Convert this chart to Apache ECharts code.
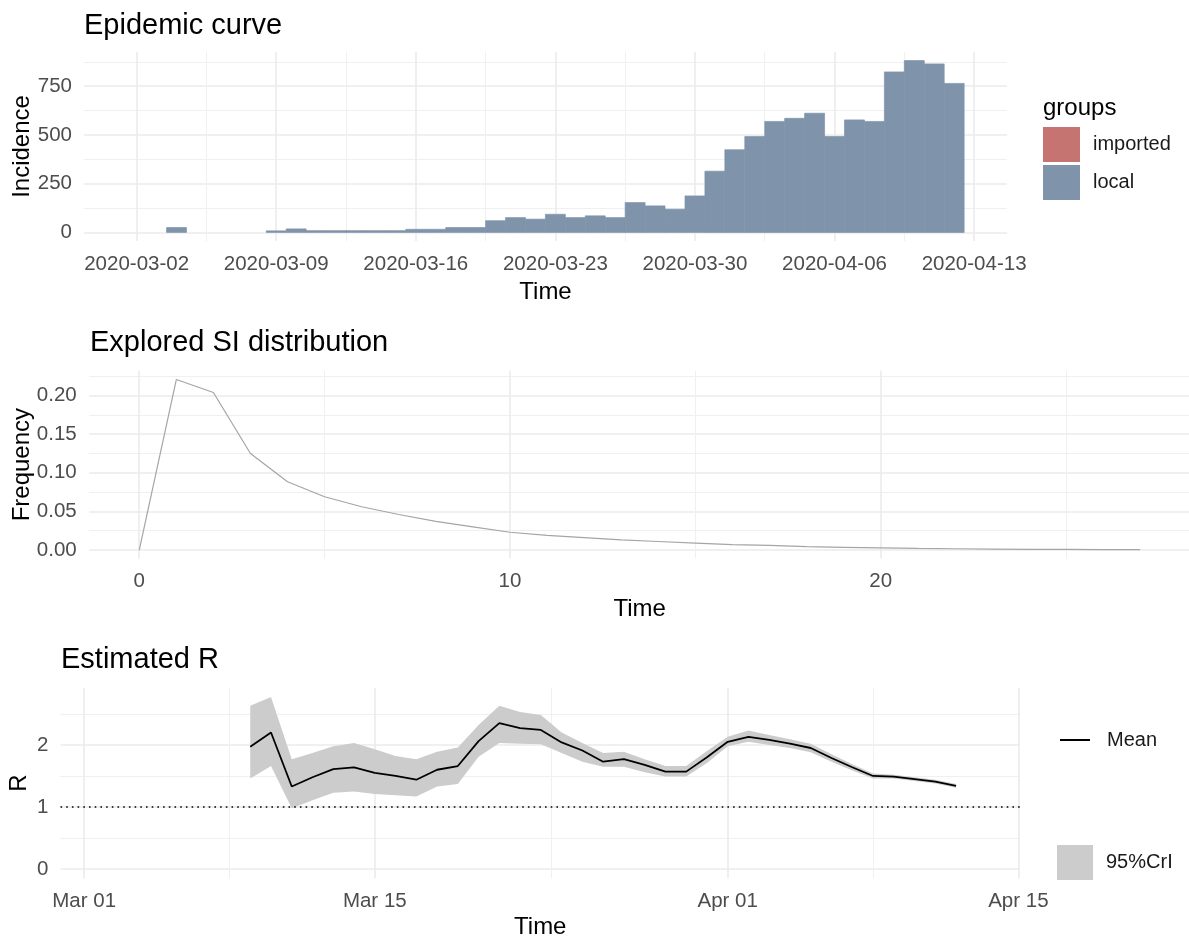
<!DOCTYPE html>
<html>
<head>
<meta charset="utf-8">
<script src="https://cdn.jsdelivr.net/npm/echarts@6/dist/echarts.min.js"></script>
<style>
  html, body { margin: 0; background: #fff; }
  #chart { width: 1189px; height: 939px; }
</style>
</head>
<body>
<div id="chart"></div>
<script>
const DAY = 86400000
const day = (s) => Date.parse(s + 'T00:00:00Z')

// --- epidemic curve (daily incidence, local cases; no imported cases visible)
const incidenceDates = [
  '2020-03-04', '2020-03-09', '2020-03-10', '2020-03-11', '2020-03-12', '2020-03-13',
  '2020-03-14', '2020-03-15', '2020-03-16', '2020-03-17', '2020-03-18', '2020-03-19',
  '2020-03-20', '2020-03-21', '2020-03-22', '2020-03-23', '2020-03-24', '2020-03-25',
  '2020-03-26', '2020-03-27', '2020-03-28', '2020-03-29', '2020-03-30', '2020-03-31',
  '2020-04-01', '2020-04-02', '2020-04-03', '2020-04-04', '2020-04-05', '2020-04-06',
  '2020-04-07', '2020-04-08', '2020-04-09', '2020-04-10', '2020-04-11', '2020-04-12',
]
const incidenceLocal = [
  25, 8, 18, 9, 9, 9,
  9, 9, 16, 16, 25, 25,
  60, 76, 68, 93, 76, 85,
  76, 153, 136, 119, 187, 314,
  424, 492, 569, 585, 611, 492,
  577, 569, 823, 881, 864, 764,
]
const incidenceImported = []
const incidenceTicksX = ['2020-03-02', '2020-03-09', '2020-03-16', '2020-03-23', '2020-03-30', '2020-04-06', '2020-04-13']
const incidenceMinorX = ['2020-03-05T12:00', '2020-03-12T12:00', '2020-03-19T12:00', '2020-03-26T12:00', '2020-04-02T12:00', '2020-04-09T12:00']
const incidenceTicksY = [0, 250, 500, 750]
const incidenceMinorY = [125, 375, 625, 875]

// --- serial interval distribution
const siTime = [0, 1, 2, 3, 4, 5, 6, 7, 8, 9, 10, 11, 12, 13, 14, 15, 16, 17, 18, 19, 20, 21, 22, 23, 24, 25, 26, 27]
const siFreq = [
  0, 0.2207, 0.2039, 0.125, 0.0884, 0.069, 0.056, 0.046, 0.037, 0.030,
  0.023, 0.019, 0.016, 0.013, 0.011, 0.009, 0.007, 0.006, 0.0045, 0.0035,
  0.0027, 0.002, 0.0016, 0.0012, 0.0009, 0.0007, 0.0005, 0.0004,
]
const siTicksX = [0, 10, 20]
const siMinorX = [5, 15, 25]
const siTicksY = [0, 0.05, 0.1, 0.15, 0.2]
const siMinorY = [0.025, 0.075, 0.125, 0.175, 0.225]

// --- estimated R
const rDates = [
  '2020-03-09', '2020-03-10', '2020-03-11', '2020-03-12', '2020-03-13', '2020-03-14', '2020-03-15',
  '2020-03-16', '2020-03-17', '2020-03-18', '2020-03-19', '2020-03-20', '2020-03-21', '2020-03-22',
  '2020-03-23', '2020-03-24', '2020-03-25', '2020-03-26', '2020-03-27', '2020-03-28', '2020-03-29',
  '2020-03-30', '2020-03-31', '2020-04-01', '2020-04-02', '2020-04-03', '2020-04-04', '2020-04-05',
  '2020-04-06', '2020-04-07', '2020-04-08', '2020-04-09', '2020-04-10', '2020-04-11', '2020-04-12',
]
const rMean = [
  1.97, 2.20, 1.33, 1.48, 1.61, 1.64, 1.55,
  1.50, 1.44, 1.60, 1.66, 2.06, 2.35, 2.27,
  2.24, 2.04, 1.91, 1.73, 1.77, 1.68, 1.57,
  1.57, 1.80, 2.05, 2.13, 2.08, 2.02, 1.95,
  1.79, 1.64, 1.50, 1.49, 1.45, 1.41, 1.34,
]
const rUpper = [
  2.63, 2.77, 1.77, 1.87, 1.98, 2.03, 1.93,
  1.82, 1.77, 1.89, 1.96, 2.32, 2.63, 2.53,
  2.48, 2.20, 2.03, 1.87, 1.89, 1.77, 1.66,
  1.66, 1.90, 2.13, 2.23, 2.16, 2.09, 2.02,
  1.85, 1.69, 1.54, 1.52, 1.48, 1.44, 1.37,
]
const rLower = [
  1.46, 1.66, 0.98, 1.11, 1.23, 1.25, 1.21,
  1.19, 1.17, 1.33, 1.37, 1.81, 2.03, 2.02,
  2.01, 1.87, 1.73, 1.65, 1.65, 1.56, 1.49,
  1.49, 1.71, 1.98, 2.05, 2.00, 1.95, 1.88,
  1.73, 1.59, 1.46, 1.46, 1.42, 1.38, 1.31,
]
const rTicksX = ['2020-03-01', '2020-03-15', '2020-04-01', '2020-04-15']
const rMinorX = ['2020-03-08', '2020-03-23T12:00', '2020-04-08']
const rTicksY = [0, 1, 2]
const rMinorY = [0.5, 1.5, 2.5]
const rThreshold = 1

// --- styling
const FONT = '"Liberation Sans", Arial, sans-serif'
const TICK = '#4d4d4d'
const GRID_MAJOR = '#ebebeb'
const GRID_MINOR = '#f0f0f0'
const LOCAL_COLOR = '#7f94ab'
const IMPORTED_COLOR = '#c57472'
const BAND_COLOR = '#cccccc'

// dates live on plain value axes (milliseconds, UTC)
const ts = (s) => Date.parse(s.length > 10 ? s + ':00Z' : s + 'T00:00:00Z')
const MONTHS = ['Jan', 'Feb', 'Mar', 'Apr', 'May', 'Jun', 'Jul', 'Aug', 'Sep', 'Oct', 'Nov', 'Dec']
const isoDate = (v) => new Date(v).toISOString().slice(0, 10)
const shortDate = (v) => {
  const d = new Date(v)
  return MONTHS[d.getUTCMonth()] + ' ' + String(d.getUTCDate()).padStart(2, '0')
}

const mainAxis = (gridIndex, min, max, ticks, fmt, margin, name, nameGap, pinName) => ({
  type: 'value', gridIndex, min, max, scale: true,
  axisLine: { show: false },
  axisTick: { show: false, customValues: ticks },
  axisLabel: { customValues: ticks, formatter: fmt, fontSize: 20.5, color: TICK, margin, fontFamily: FONT },
  splitLine: { show: true, lineStyle: { color: GRID_MAJOR, width: 1.6 } },
  name, nameLocation: 'middle', nameGap,
  nameMoveOverlap: !pinName,
  nameTextStyle: { fontSize: 24, color: '#000', fontFamily: FONT },
})
const minorAxis = (gridIndex, min, max, ticks) => ({
  type: 'value', gridIndex, min, max, scale: true,
  axisLine: { show: false },
  axisTick: { show: false, customValues: ticks },
  axisLabel: { show: false, customValues: ticks },
  splitLine: { show: true, lineStyle: { color: GRID_MINOR, width: 1.1 } },
})

const p1min = day('2020-03-02') - 2.64 * DAY
const p1max = day('2020-03-02') + 43.65 * DAY
const p3min = day('2020-03-01') - 1.14 * DAY
const p3max = day('2020-03-01') + 45.08 * DAY

const barItem = (color) => (params, api) => {
  const t = api.value(0)
  const top = api.coord([t - DAY / 2, api.value(1)])
  const bottom = api.coord([t + DAY / 2, 0])
  return {
    type: 'rect',
    shape: { x: top[0], y: top[1], width: bottom[0] - top[0], height: bottom[1] - top[1] },
    style: { fill: color, stroke: color, lineWidth: 0.7 },
  }
}

// credible interval drawn once as a closed band through the axis scales
const bandItem = (params, api) => {
  if (params.dataIndex !== 0) return null
  const lower = rDates.map((d, i) => api.coord([day(d), rLower[i]]))
  const upper = rDates.map((d, i) => api.coord([day(d), rUpper[i]])).reverse()
  return { type: 'polygon', shape: { points: lower.concat(upper) }, style: { fill: BAND_COLOR } }
}

const titleStyle = { fontSize: 29, fontWeight: 'normal', color: '#000', fontFamily: FONT }
const legendText = { fontSize: 20, color: '#1a1a1a', fontFamily: FONT }

const chart = echarts.init(document.getElementById('chart'), null, { renderer: 'canvas' })
chart.setOption({
  animation: false,
  backgroundColor: '#fff',
  textStyle: { fontFamily: FONT },
  title: [
    { text: 'Epidemic curve', left: 84, top: 11, padding: 0, textStyle: titleStyle },
    { text: 'groups', left: 1043, top: 96, padding: 0, textStyle: { fontSize: 24, fontWeight: 'normal', color: '#000', fontFamily: FONT } },
    { text: 'Explored SI distribution', left: 90, top: 328, padding: 0, textStyle: titleStyle },
    { text: 'Estimated R', left: 61, top: 645, padding: 0, textStyle: titleStyle },
  ],
  legend: [
    {
      orient: 'vertical', left: 1043, top: 127, padding: 0, itemGap: 3,
      itemWidth: 37, itemHeight: 35, icon: 'rect', selectedMode: false,
      data: [
        { name: 'imported', itemStyle: { color: IMPORTED_COLOR } },
        { name: 'local', itemStyle: { color: LOCAL_COLOR } },
      ],
      textStyle: { ...legendText, padding: [0, 0, 0, 8] },
    },
    {
      left: 1060, top: 730, padding: 0, itemWidth: 30, itemHeight: 2, icon: 'rect', selectedMode: false,
      data: [{ name: 'Mean', itemStyle: { color: '#000' } }],
      textStyle: { ...legendText, padding: [0, 0, 0, 12] },
    },
    {
      left: 1057, top: 845, padding: 0, itemWidth: 36, itemHeight: 35, icon: 'rect', selectedMode: false,
      data: [{ name: '95%CrI', itemStyle: { color: BAND_COLOR } }],
      textStyle: { ...legendText, padding: [0, 0, 0, 8] },
    },
  ],
  grid: [
    { left: 84, top: 52, width: 923, height: 189, outerBoundsMode: 'none' },
    { left: 89.2, top: 370.8, width: 1101, height: 187.7, outerBoundsMode: 'none' },
    { left: 60.5, top: 687.7, width: 959.5, height: 190.6, outerBoundsMode: 'none' },
  ],
  xAxis: [
    mainAxis(0, p1min, p1max, incidenceTicksX.map(ts), isoDate, 13, 'Time', 39),
    minorAxis(0, p1min, p1max, incidenceMinorX.map(ts)),
    mainAxis(1, -1.35, 28.35, siTicksX, (v) => String(v), 12, 'Time', 39),
    minorAxis(1, -1.35, 28.35, siMinorX),
    mainAxis(2, p3min, p3max, rTicksX.map(ts), shortDate, 13, 'Time', 37),
    minorAxis(2, p3min, p3max, rMinorX.map(ts)),
  ],
  yAxis: [
    mainAxis(0, -44, 925, incidenceTicksY, (v) => String(v), 12, 'Incidence', 50, true),
    minorAxis(0, -44, 925, incidenceMinorY),
    mainAxis(1, -0.011, 0.232, siTicksY, (v) => v.toFixed(2), 12.5, 'Frequency', 55, true),
    minorAxis(1, -0.011, 0.232, siMinorY),
    mainAxis(2, -0.146, 2.92, rTicksY, (v) => String(v), 12, 'R', 29, true),
    minorAxis(2, -0.146, 2.92, rMinorY),
  ],
  series: [
    {
      name: 'imported', type: 'custom', xAxisIndex: 0, yAxisIndex: 0,
      renderItem: barItem(IMPORTED_COLOR), itemStyle: { color: IMPORTED_COLOR },
      encode: { x: 0, y: 1 },
      data: incidenceImported,
    },
    {
      name: 'local', type: 'custom', xAxisIndex: 0, yAxisIndex: 0,
      renderItem: barItem(LOCAL_COLOR), itemStyle: { color: LOCAL_COLOR },
      encode: { x: 0, y: 1 },
      data: incidenceDates.map((d, i) => [day(d), incidenceLocal[i]]),
    },
    {
      name: 'SI', type: 'line', xAxisIndex: 2, yAxisIndex: 2, symbol: 'none',
      lineStyle: { color: '#a5a5a5', width: 1.2 },
      data: siTime.map((t, i) => [t, siFreq[i]]),
    },
    {
      name: '95%CrI', type: 'custom', xAxisIndex: 4, yAxisIndex: 4, z: 2,
      renderItem: bandItem, itemStyle: { color: BAND_COLOR },
      encode: { x: 0, y: [1, 2] },
      data: rDates.map((d, i) => [day(d), rLower[i], rUpper[i]]),
    },
    {
      name: 'Mean', type: 'line', xAxisIndex: 4, yAxisIndex: 4, symbol: 'none', z: 4,
      lineStyle: { color: '#000', width: 1.8 }, itemStyle: { color: '#000' },
      data: rDates.map((d, i) => [day(d), rMean[i]]),
      markLine: {
        silent: true, symbol: 'none', label: { show: false },
        lineStyle: { color: '#000', type: [1.6, 4.1], width: 1.6 },
        data: [{ yAxis: rThreshold }],
      },
    },
  ],
})
</script>
</body>
</html>
